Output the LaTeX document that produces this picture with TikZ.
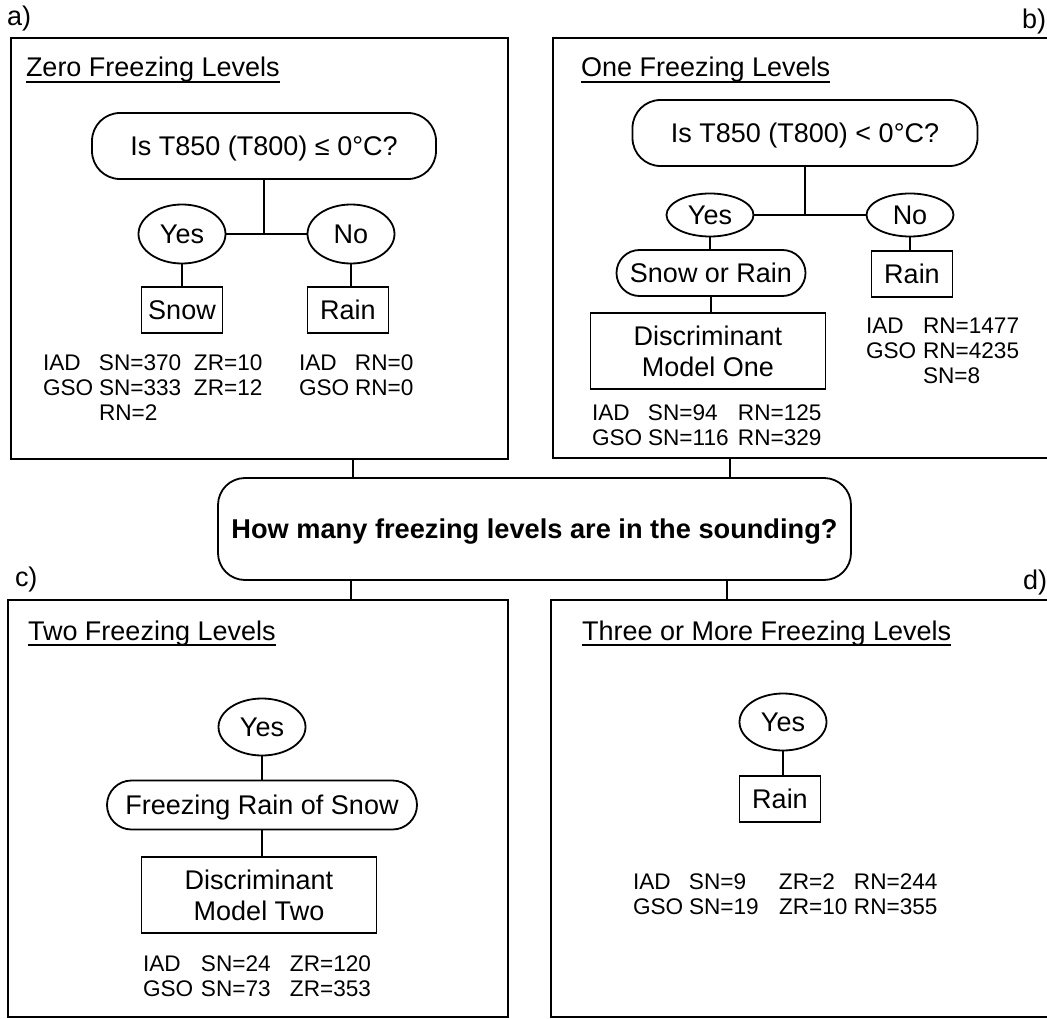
\documentclass[tikz,border=0pt]{standalone}
\usepackage{fontspec}
\setmainfont{Liberation Sans}
\usetikzlibrary{shapes.geometric,shapes.misc,fit}
\newcommand{\statcol}[2]{\makebox[#1][l]{#2}}
\begin{document}
\begin{tikzpicture}[x=1pt,y=-1pt,
  line width=1.8pt,
  every node/.style={inner sep=0pt, outer sep=0pt},
  mainfont/.style={font=\fontsize{27}{31}\selectfont},
  capbox/.style={text height=19.5pt, text depth=0pt},
  qbox/.style={draw, rectangle, rounded corners=28pt, mainfont, capbox, minimum width=344pt, minimum height=66pt},
  oval/.style={draw, ellipse, mainfont, capbox, minimum width=87pt},
  rbox/.style={draw, rectangle, minimum width=81pt, minimum height=46pt, mainfont, capbox},
  stad/.style={draw, rounded rectangle, mainfont, capbox},
  dbox/.style={draw, rectangle, minimum width=235pt, minimum height=76pt, mainfont, align=center},
  panel/.style={draw, rectangle},
  openpanel/.style={rectangle},
  ttl/.style={anchor=base west, mainfont},
  plabel/.style={anchor=base west, mainfont},
  stats/.style={anchor=base west, font=\fontsize{22.6}{25}\selectfont},
]
\useasboundingbox (0,0) rectangle (1047,1019);

% panel frames
\node[panel, fit={(11,38) (508,459)}] (pa) {};
\node[openpanel, fit={(553,38) (1047,458)}] (pb) {};
\draw (pb.north east) -- (pb.north west) -- (pb.south west) -- (pb.south east);
\node[panel, fit={(8,600) (508,1017)}] (pc) {};
\node[openpanel, fit={(551,600) (1047,1017)}] (pd) {};
\draw (pd.north east) -- (pd.north west) -- (pd.south west) -- (pd.south east);

% panel labels
\node[plabel] (la) at (7,26) {a)};
\node[plabel] (lb) at (1022,29) {b)};
\node[plabel] (lc) at (15,586) {c)};
\node[plabel] (ld) at (1023,589) {d)};

% titles
\node[ttl] (ta) at (26,77) {Zero Freezing Levels};
\node[ttl] (tb) at (581,77) {One Freezing Levels};
\node[ttl] (tc) at (28,640) {Two Freezing Levels};
\node[ttl] (td) at (582,640) {Three or More Freezing Levels};
\foreach \t in {ta,tb,tc,td}
  \draw ([yshift=-5pt]\t.base west) -- ([yshift=-5pt]\t.base east);

% centre question
\node[draw, rounded corners=27pt, minimum width=633pt, minimum height=102pt,
      font=\fontsize{27.2}{31}\selectfont\bfseries, capbox] (ctr) at (534.5,529)
      {How many freezing levels are in the sounding?};
\draw (353,0 |- pa.south) -- (353,0 |- ctr.north);
\draw (730,0 |- pb.south) -- (730,0 |- ctr.north);
\draw (351,0 |- ctr.south) -- (351,0 |- pc.north);
\draw (727,0 |- ctr.south) -- (727,0 |- pd.north);

% panel a
\node[qbox] (qa) at (264,146) {Is T850 (T800) ≤ 0°C?};
\node[oval, minimum height=59pt] (ya) at (182,234) {Yes};
\node[oval, minimum height=59pt] (na) at (351,234) {No};
\node[rbox] (snowa) at (182,310) {Snow};
\node[rbox] (raina) at (348,310) {Rain};
\draw (qa.south) -- (qa.south |- ya.east);
\draw (ya.east) -- (na.west);
\draw (ya.south) -- (snowa.north);
\draw (na.south) -- (na.south |- raina.north);
\node[stats] (sta1) at (43,370) {\begin{tabular}[t]{@{}l@{}}\statcol{56pt}{IAD}\statcol{95pt}{SN=370}ZR=10\\
  \statcol{56pt}{GSO}\statcol{95pt}{SN=333}ZR=12\\
  \statcol{56pt}{}RN=2\end{tabular}};
\node[stats] (sta2) at (299,370) {\begin{tabular}[t]{@{}l@{}}\statcol{56pt}{IAD}RN=0\\
  \statcol{56pt}{GSO}RN=0\end{tabular}};

% panel b
\node[qbox, minimum width=345pt] (qb) at (805,133) {Is T850 (T800) < 0°C?};
\node[oval, minimum height=43pt] (yb) at (710,215) {Yes};
\node[oval, minimum height=43pt] (nb) at (910,215) {No};
\node[stad, minimum width=189pt, minimum height=46pt] (sr) at (711,273) {Snow or Rain};
\node[dbox] (db) at (708,351) {Discriminant\\Model One};
\node[rbox] (rb) at (912,274) {Rain};
\draw (qb.south) -- (qb.south |- yb.east);
\draw (yb.east) -- (nb.west);
\draw (yb.south) -- (yb.south |- sr.north);
\draw (sr.south) -- (sr.south |- db.north);
\draw (nb.south) -- (nb.south |- rb.north);
\node[stats] (stb1) at (866,333) {\begin{tabular}[t]{@{}l@{}}\statcol{57pt}{IAD}RN=1477\\
  \statcol{57pt}{GSO}RN=4235\\
  \statcol{57pt}{}SN=8\end{tabular}};
\node[stats] (stb2) at (592,420) {\begin{tabular}[t]{@{}l@{}}\statcol{56pt}{IAD}\statcol{90pt}{SN=94}RN=125\\
  \statcol{56pt}{GSO}\statcol{90pt}{SN=116}RN=329\end{tabular}};

% panel c
\node[oval, minimum height=57pt] (yc) at (262,727) {Yes};
\node[stad, minimum width=310pt, minimum height=49pt] (fc) at (262,805) {Freezing Rain of Snow};
\node[dbox] (dc) at (259,895) {Discriminant\\Model Two};
\draw (yc.south) -- (fc.north);
\draw (fc.south) -- (fc.south |- dc.north);
\node[stats] (stc) at (143,971) {\begin{tabular}[t]{@{}l@{}}\statcol{58pt}{IAD}\statcol{89pt}{SN=24}ZR=120\\
  \statcol{58pt}{GSO}\statcol{89pt}{SN=73}ZR=353\end{tabular}};

% panel d
\node[oval, minimum height=57pt] (yd) at (783,722) {Yes};
\node[rbox] (rd) at (780,799) {Rain};
\draw (yd.south) -- (yd.south |- rd.north);
\node[stats] (std) at (633,889) {\begin{tabular}[t]{@{}l@{}}\statcol{56pt}{IAD}\statcol{90pt}{SN=9}\statcol{75pt}{ZR=2}RN=244\\
  \statcol{56pt}{GSO}\statcol{90pt}{SN=19}\statcol{75pt}{ZR=10}RN=355\end{tabular}};
\end{tikzpicture}
\end{document}
